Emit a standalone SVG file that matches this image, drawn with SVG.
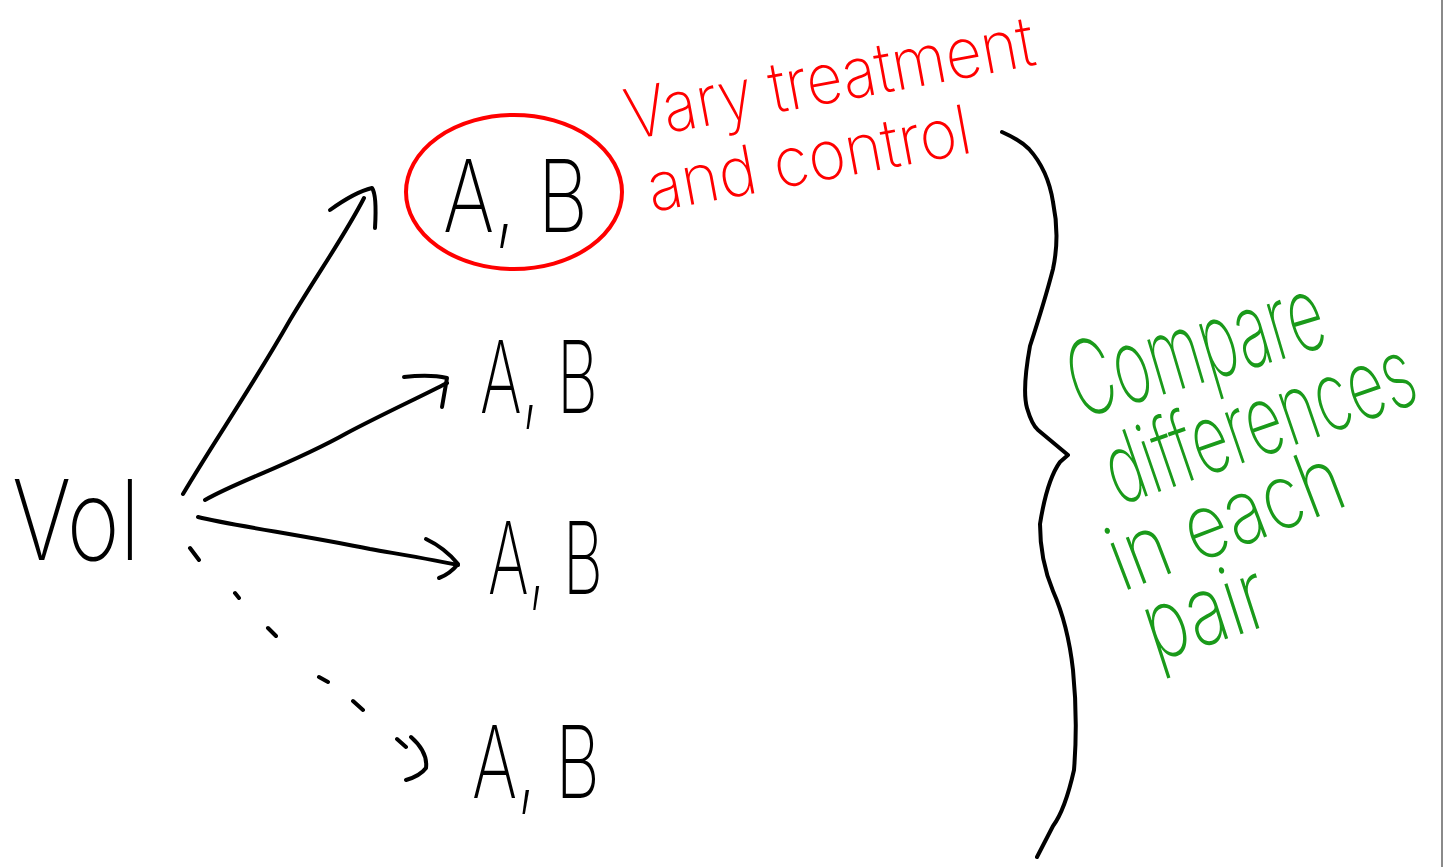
<svg xmlns="http://www.w3.org/2000/svg" width="1445" height="867" viewBox="0 0 1445 867">
<style>
.ink{fill:none;stroke:#000;stroke-width:4;stroke-linecap:round;stroke-linejoin:round}
.redink{fill:none;stroke:#ff0000;stroke-width:4;stroke-linecap:round;stroke-linejoin:round}
.t{font-family:Inter,"Liberation Sans",sans-serif;font-weight:200}
.blk{fill:#000}
.red{fill:#ff0000}
.grn{fill:#1a9a1a}
</style>
<rect width="1445" height="867" fill="#fff"/>
<line x1="1442" y1="0" x2="1442" y2="867" stroke="#8a8a8a" stroke-width="2"/>

<g id="n_vol"><text class="t blk" x="12" y="560" font-size="112" textLength="128" lengthAdjust="spacingAndGlyphs">Vol</text></g>

<g id="n_ab1">
<ellipse cx="514" cy="192" rx="108" ry="77" class="redink"/>
<text class="t blk" x="443" y="232" font-size="100" textLength="145" lengthAdjust="spacingAndGlyphs">A, B</text>
</g>
<g id="n_ab2"><text class="t blk" x="480" y="413" font-size="100" textLength="118" lengthAdjust="spacingAndGlyphs">A, B</text></g>
<g id="n_ab3"><text class="t blk" x="488" y="594" font-size="100" textLength="115" lengthAdjust="spacingAndGlyphs">A, B</text></g>
<g id="n_ab4"><text class="t blk" x="472" y="798" font-size="100" textLength="128" lengthAdjust="spacingAndGlyphs">A, B</text></g>

<g id="connectors">
<path class="ink" d="M183,494 C215,440 250,390 290,320 C320,270 345,235 364,198"/>
<path class="ink" d="M330,210 Q355,192 372,188 Q377,195 375,228"/>
<path class="ink" d="M205,500 C240,480 290,465 347,433 C385,413 420,397 447,383"/>
<path class="ink" d="M404,377 Q430,374 447,378 L442,407"/>
<path class="ink" d="M198,517 C230,525 300,535 370,549 C410,556 440,561 458,565"/>
<path class="ink" d="M426,539 Q445,548 458,564 Q450,574 439,578"/>
<path class="ink" d="M190,548 L199,560 M235,593 L239,598 M268,628 L276,636 M319,677 L328,682 M353,701 L363,710 M397,739 L406,747"/>
<path class="ink" d="M411,737 Q428,752 426,768 Q420,776 406,780"/>
</g>

<g id="label_red">
<text class="t red" transform="translate(630,140) rotate(-10.5)" font-size="70" textLength="415" lengthAdjust="spacingAndGlyphs">Vary treatment</text>
<text class="t red" transform="translate(652,212) rotate(-10.5)" font-size="68" textLength="328" lengthAdjust="spacingAndGlyphs">and control</text>
</g>

<g id="brace">
<path class="ink" d="M1002,132 Q1020,140 1029,149 Q1048,170 1053,202 Q1060,236 1053,269 Q1045,300 1030,346 Q1022,390 1027,408 Q1032,425 1038,430 L1068,455 L1060,462 Q1047,480 1040,524 Q1040,560 1053,591 Q1068,625 1073,670 Q1078,720 1074,770 Q1065,810 1053,826 L1037,857"/>
</g>

<g id="label_green">
<text class="t grn" transform="translate(1080,419) rotate(-16.5)" font-size="104" textLength="262" lengthAdjust="spacingAndGlyphs">Compare</text>
<text class="t grn" transform="translate(1118,506) rotate(-19)" font-size="97" textLength="322" lengthAdjust="spacingAndGlyphs">differences</text>
<text class="t grn" transform="translate(1122,592) rotate(-21)" font-size="90" textLength="245" lengthAdjust="spacingAndGlyphs">in each</text>
<text class="t grn" transform="translate(1155,662) rotate(-18)" font-size="96" textLength="125" lengthAdjust="spacingAndGlyphs">pair</text>
</g>
</svg>
